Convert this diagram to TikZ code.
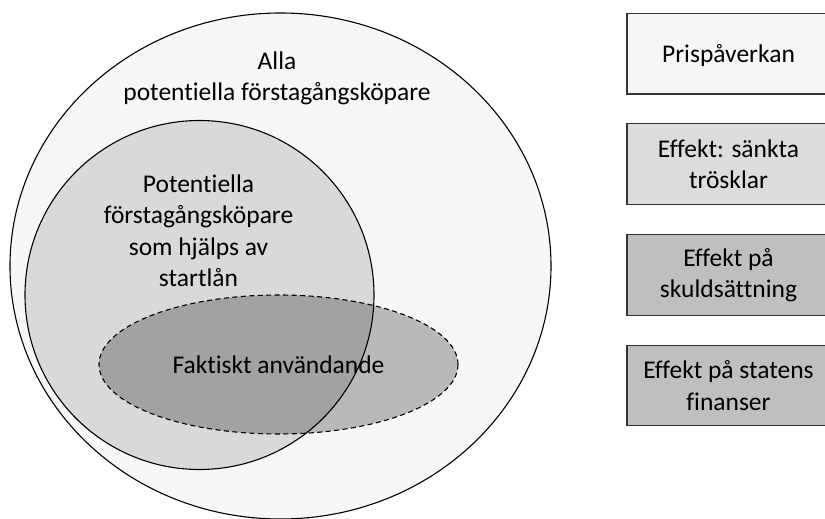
\documentclass[tikz,border=0pt]{standalone}
\usepackage{fontspec}
\setmainfont{Carlito}[RawFeature={-liga}]
\usetikzlibrary{shapes.geometric}
\definecolor{paleG}{HTML}{F7F7F7}
\definecolor{midG}{HTML}{D9D9D9}
\definecolor{boxG}{HTML}{DCDCDC}
\definecolor{darkG}{HTML}{BFBFBF}
\tikzset{
  setshape/.style={draw=black, line width=1.1pt, inner sep=0pt, outer sep=0pt},
  lbl/.style={align=center, inner sep=0pt, font=\fontsize{25.5}{31.5}\selectfont},
  keybox/.style={draw=black!80, line width=1.4pt, minimum width=203pt, minimum height=80.5pt,
    inner sep=0pt, align=center, font=\fontsize{25.5}{31.5}\selectfont},
}
\begin{document}
\begin{tikzpicture}[x=1pt, y=-1pt]
\clip (0,0) rectangle (825,519);
\fill[white] (0,0) rectangle (825,519);
% sets
\node[setshape, ellipse, fill=paleG, minimum width=541pt, minimum height=506pt] (all) at (280.5,266) {};
\node[setshape, circle, fill=midG, minimum size=349pt] (helped) at (199.5,295) {};
\node[setshape, ellipse, dashed, dash pattern=on 5pt off 3.5pt, fill=black, fill opacity=0.25,
      minimum width=359pt, minimum height=139pt] (actual) at (278.5,364.5) {};
% set labels
\node[lbl] (allT) at (277,78.5) {Alla\\potentiella förstagångsköpare};
\node[lbl] (helpedT) at (198.5,230.5) {Potentiella\\förstagångsköpare\\som hjälps av\\startlån};
\node[lbl] (actualT) at (278.5,364.3) {Faktiskt användande};
% legend boxes
\node[keybox, fill=paleG, text depth=0pt] (b1) at (728.5,53.75) {Prispåverkan};
\node[keybox, fill=boxG] (b2) at (728.5,164) {Effekt: sänkta\\trösklar};
\node[keybox, fill=darkG] (b3) at (728.5,275) {Effekt på\\skuldsättning};
\node[keybox, fill=darkG] (b4) at (728.5,385.5) {Effekt på statens\\finanser};
\end{tikzpicture}
\end{document}
